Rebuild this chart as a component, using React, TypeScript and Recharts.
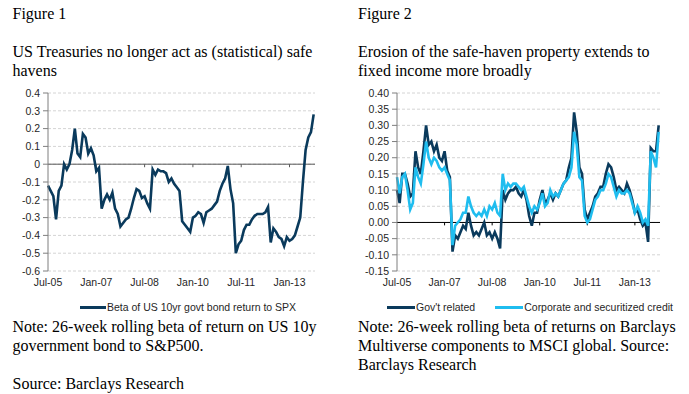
import React from 'react'
import { LineChart, Line, XAxis, YAxis, CartesianGrid, ReferenceLine } from 'recharts'

// monthly points, index 0 = Jul-05
const X_TICKS = [0, 18, 36, 54, 72, 90]
const X_LABELS = ['Jul-05', 'Jan-07', 'Jul-08', 'Jan-10', 'Jul-11', 'Jan-13']

const Y1_TICKS = [0.4, 0.3, 0.2, 0.1, 0, -0.1, -0.2, -0.3, -0.4, -0.5, -0.6]
const Y2_TICKS = [0.4, 0.35, 0.3, 0.25, 0.2, 0.15, 0.1, 0.05, 0, -0.05, -0.1, -0.15]

const betaUs10y = [
  -0.12, -0.15, -0.18, -0.31, -0.15, -0.12, 0.0, -0.03, 0.0, 0.08,
  0.2, 0.06, 0.04, 0.17, 0.15, 0.06, 0.09, 0.05, -0.04, -0.02,
  -0.25, -0.2, -0.17, -0.2, -0.16, -0.25, -0.28, -0.35, -0.33, -0.31,
  -0.3, -0.25, -0.19, -0.14, -0.15, -0.19, -0.18, -0.22, -0.25, -0.03,
  -0.06, -0.03, -0.04, -0.04, -0.05, -0.1, -0.08, -0.11, -0.13, -0.15,
  -0.32, -0.34, -0.36, -0.38, -0.3, -0.29, -0.27, -0.28, -0.33, -0.27,
  -0.26, -0.25, -0.23, -0.21, -0.15, -0.11, -0.08, -0.01, -0.14, -0.22,
  -0.5, -0.45, -0.43, -0.37, -0.34, -0.34, -0.31, -0.29, -0.28, -0.28,
  -0.28, -0.27, -0.24, -0.44, -0.36, -0.38, -0.41, -0.42, -0.46, -0.41,
  -0.43, -0.42, -0.4, -0.35, -0.3, -0.1, 0.08, 0.15, 0.18, 0.28,
]

const govRelated = [
  0.1, 0.06, 0.15, 0.15, 0.12, 0.08, 0.09, 0.22, 0.17, 0.15,
  0.22, 0.3, 0.24, 0.25, 0.22, 0.24, 0.2, 0.19, 0.22, 0.16,
  0.14, -0.09, -0.04, -0.05, -0.03, -0.01, -0.02, 0.03, -0.01, -0.04,
  -0.03, -0.04, -0.02, 0.0, -0.04, -0.03, -0.05, -0.03, -0.05, -0.08,
  0.1, 0.07, 0.09, 0.1, 0.1, 0.11, 0.09, 0.08, 0.1, 0.07,
  0.02, -0.01, 0.03, 0.03, 0.07, 0.1, 0.06, 0.07, 0.09, 0.07,
  0.09, 0.08, 0.1, 0.12, 0.13, 0.17, 0.2, 0.34, 0.28, 0.17,
  0.15, 0.04, 0.01, 0.03, 0.05, 0.08, 0.09, 0.11, 0.11, 0.15,
  0.18, 0.17, 0.14, 0.1, 0.11, 0.1, 0.09, 0.12, 0.1, 0.07,
  0.03, 0.04, 0.01, -0.01, 0.0, -0.06, 0.23, 0.22, 0.22, 0.3,
]

const corporateCredit = [
  0.14, 0.09, 0.14, 0.15, 0.1, 0.04, 0.06, 0.17, 0.14, 0.12,
  0.18, 0.25, 0.2, 0.18, 0.2, 0.19, 0.17, 0.16, 0.17, 0.15,
  0.13, -0.07, -0.01, 0.0, 0.01, 0.03, 0.03, 0.08, 0.05, 0.03,
  0.02, 0.03, 0.02, 0.04, 0.02, 0.05, 0.04, 0.06, 0.03, 0.02,
  0.15, 0.1, 0.12, 0.11, 0.12, 0.12, 0.11, 0.1, 0.11, 0.08,
  0.05, 0.03, 0.05, 0.04, 0.06, 0.09, 0.05, 0.06, 0.1, 0.08,
  0.09, 0.08, 0.1, 0.12, 0.13, 0.14, 0.17, 0.28, 0.24, 0.14,
  0.13, 0.02, 0.0, 0.01, 0.04, 0.07, 0.08, 0.1, 0.1, 0.12,
  0.15, 0.14, 0.11, 0.08, 0.1, 0.09, 0.09, 0.1, 0.09, 0.06,
  0.03, 0.05, 0.03, 0.0, 0.01, -0.01, 0.22, 0.2, 0.17, 0.28,
]

const DARK = '#0a3a5c'
const LIGHT = '#1fbdef'
const TICK = { fontSize: 10.5, fill: '#262626', fontFamily: 'Liberation Sans' }

const data1 = betaUs10y.map((v, i) => ({ m: i, beta: v }))
const data2 = govRelated.map((v, i) => ({ m: i, gov: v, corp: corporateCredit[i] }))

const fmtX = (v: number) => X_LABELS[X_TICKS.indexOf(v)] ?? ''

const abs = (left: number, top: number): React.CSSProperties => ({ position: 'absolute', left, top, whiteSpace: 'nowrap' })

function LegendItem({ color, label, width }: { color: string; label: string; width: number }) {
  return (
    <div style={{ display: 'flex', alignItems: 'center' }}>
      <div style={{ width, height: 3, background: color, marginRight: 1 }} />
      <span style={{ fontFamily: 'Liberation Sans', fontSize: 10.5, color: '#262626' }}>{label}</span>
    </div>
  )
}

export default function App() {
  return (
    <div style={{
      position: 'absolute', left: 0, top: 0, width: 689, height: 394, background: '#fff',
      fontFamily: 'Liberation Serif', fontSize: 16, lineHeight: '19px', color: '#000',
    }}>
      {/* titles */}
      <div style={abs(12.5, 4.4)}>
        <div>Figure 1</div>
        <div>&nbsp;</div>
        <div>US Treasuries no longer act as (statistical) safe</div>
        <div>havens</div>
      </div>
      <div style={abs(358, 4.4)}>
        <div>Figure 2</div>
        <div>&nbsp;</div>
        <div>Erosion of the safe-haven property extends to</div>
        <div>fixed income more broadly</div>
      </div>

      {/* Figure 1 */}
      <div style={abs(0, 85)}>
        <LineChart width={330} height={210} data={data1} margin={{ top: 8, right: 15, bottom: 0, left: 0 }}>
          <CartesianGrid vertical={false} stroke="#d4d4d4" strokeDasharray="3 2" />
          <XAxis dataKey="m" type="number" domain={[0, 99.5]} ticks={X_TICKS} interval={0}
            tickFormatter={fmtX} axisLine={false} tickLine={false} height={24} tick={TICK} />
          <YAxis type="number" domain={[-0.6, 0.4]} ticks={Y1_TICKS} interval={0} width={48}
            tickFormatter={v => (v === 0 ? '0' : Number(v).toFixed(1))}
            axisLine={{ stroke: '#7f7f7f' }} tickLine={{ stroke: '#7f7f7f' }} tickSize={5} tickMargin={3} tick={TICK} />
          <ReferenceLine y={0} stroke="#595959" strokeWidth={1} />
          {X_TICKS.slice(1).map(t => (
            <ReferenceLine key={t} segment={[{ x: t, y: 0 }, { x: t, y: -0.017 }]} stroke="#595959" />
          ))}
          <Line type="linear" dataKey="beta" stroke={DARK} strokeWidth={2.6} dot={false} isAnimationActive={false} />
        </LineChart>
      </div>

      {/* Figure 2 */}
      <div style={abs(345, 85)}>
        <LineChart width={330} height={210} data={data2} margin={{ top: 8, right: 15, bottom: 0, left: 0 }}>
          <CartesianGrid vertical={false} stroke="#d4d4d4" strokeDasharray="3 2" />
          <XAxis dataKey="m" type="number" domain={[0, 99.5]} ticks={X_TICKS} interval={0}
            tickFormatter={fmtX} axisLine={false} tickLine={false} height={24} tick={TICK} />
          <YAxis type="number" domain={[-0.15, 0.4]} ticks={Y2_TICKS} interval={0} width={52}
            tickFormatter={v => Number(v).toFixed(2)}
            axisLine={{ stroke: '#7f7f7f' }} tickLine={{ stroke: '#7f7f7f' }} tickSize={5} tickMargin={3} tick={TICK} />
          <ReferenceLine y={0} stroke="#000" strokeWidth={1} />
          {X_TICKS.slice(1).map(t => (
            <ReferenceLine key={t} segment={[{ x: t, y: 0 }, { x: t, y: -0.009 }]} stroke="#000" />
          ))}
          <Line type="linear" dataKey="gov" stroke={DARK} strokeWidth={2.6} dot={false} isAnimationActive={false} />
          <Line type="linear" dataKey="corp" stroke={LIGHT} strokeWidth={2.6} dot={false} isAnimationActive={false} />
        </LineChart>
      </div>

      {/* legends */}
      <div style={abs(80, 298)}>
        <LegendItem color={DARK} label="Beta of US 10yr govt bond return to SPX" width={26} />
      </div>
      <div style={{ ...abs(387, 298), display: 'flex', gap: 20 }}>
        <LegendItem color={DARK} label="Gov't related" width={28} />
        <LegendItem color={LIGHT} label="Corporate and securitized credit" width={28} />
      </div>

      {/* notes */}
      <div style={abs(12.5, 316.6)}>
        <div>Note: 26-week rolling beta of return on US 10y</div>
        <div>government bond to S&amp;P500.</div>
        <div>&nbsp;</div>
        <div>Source: Barclays Research</div>
      </div>
      <div style={abs(358, 316.6)}>
        <div>Note: 26-week rolling beta of returns on Barclays</div>
        <div>Multiverse components to MSCI global. Source:</div>
        <div>Barclays Research</div>
      </div>
    </div>
  )
}
